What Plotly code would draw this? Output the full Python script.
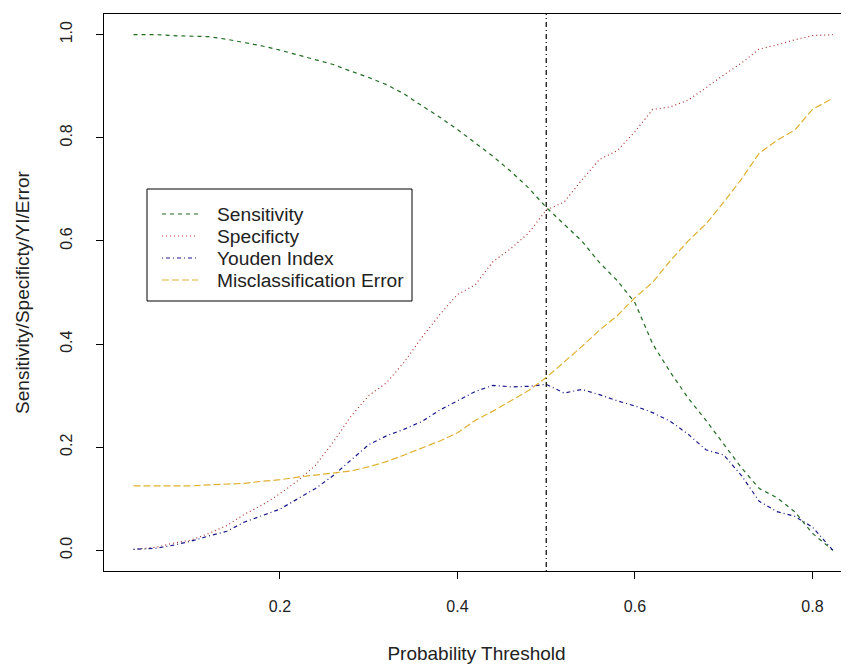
import plotly.graph_objects as go

threshold_grid = [0.035, 0.06, 0.08, 0.10, 0.12, 0.14, 0.16, 0.18, 0.20, 0.22,
                  0.24, 0.26, 0.28, 0.30, 0.32, 0.34, 0.36, 0.38, 0.40, 0.42,
                  0.44, 0.46, 0.48, 0.50, 0.52, 0.54, 0.56, 0.58, 0.60, 0.62,
                  0.64, 0.66, 0.68, 0.70, 0.72, 0.74, 0.76, 0.78, 0.80, 0.823]

sensitivity = [1.0, 1.0, 0.998, 0.997, 0.996, 0.991, 0.985, 0.978, 0.970, 0.961,
               0.952, 0.942, 0.929, 0.917, 0.903, 0.885, 0.862, 0.840, 0.816, 0.790,
               0.764, 0.735, 0.703, 0.665, 0.633, 0.600, 0.558, 0.523, 0.480, 0.400,
               0.345, 0.295, 0.252, 0.205, 0.160, 0.120, 0.102, 0.075, 0.033, 0.0]

specificity = [0.002, 0.006, 0.014, 0.020, 0.033, 0.048, 0.070, 0.088, 0.110, 0.135,
               0.165, 0.210, 0.260, 0.300, 0.325, 0.365, 0.413, 0.457, 0.496, 0.515,
               0.560, 0.585, 0.615, 0.660, 0.675, 0.718, 0.758, 0.775, 0.812, 0.855,
               0.860, 0.873, 0.897, 0.922, 0.945, 0.972, 0.980, 0.990, 0.998, 1.0]

youden = [0.002, 0.004, 0.010, 0.018, 0.028, 0.037, 0.055, 0.068, 0.080, 0.100,
          0.120, 0.145, 0.175, 0.205, 0.222, 0.235, 0.250, 0.272, 0.290, 0.308,
          0.320, 0.317, 0.318, 0.322, 0.305, 0.312, 0.302, 0.290, 0.280, 0.267,
          0.250, 0.225, 0.195, 0.185, 0.145, 0.095, 0.075, 0.066, 0.045, 0.0]

misclass_error = [0.125, 0.125, 0.125, 0.125, 0.127, 0.128, 0.130, 0.134, 0.137, 0.142,
                  0.146, 0.150, 0.154, 0.162, 0.172, 0.185, 0.198, 0.212, 0.228, 0.252,
                  0.270, 0.290, 0.310, 0.335, 0.365, 0.395, 0.427, 0.455, 0.490, 0.520,
                  0.562, 0.600, 0.633, 0.675, 0.720, 0.770, 0.795, 0.815, 0.855, 0.877]

cutoff = 0.5

series_names = ["Sensitivity", "Specificty", "Youden Index", "Misclassification Error"]
x_ticks = [0.2, 0.4, 0.6, 0.8]
y_ticks = [0.0, 0.2, 0.4, 0.6, 0.8, 1.0]

FONT = "Liberation Sans, Arial, sans-serif"

styles = [
    dict(color="#1f6b1f", dash="4px,4px"),
    dict(color="#b03030", dash="1px,3px"),
    dict(color="#1a1a8c", dash="1px,3px,4px,3px"),
    dict(color="#e0b030", dash="7px,3px"),
]

# figure geometry (the page has an 8px body margin)
W, H = 841, 656
ML, MR, MT, MB = 96, 0, 6, 93
PW, PH = W - ML - MR, H - MT - MB
PX_PER_UNIT = 887.5
X0 = 0.0017


def px_x(page_x):
    return (page_x - 8 - ML) / PW


def px_y(page_y):
    return (H - MB - (page_y - 8)) / PH


fig = go.Figure()
for name, vals, st in zip(series_names, [sensitivity, specificity, youden, misclass_error], styles):
    fig.add_trace(go.Scatter(
        x=threshold_grid, y=vals, mode="lines", name=name, showlegend=False,
        line=dict(color=st["color"], dash=st["dash"], width=1.2),
    ))

fig.add_shape(type="line", xref="x", yref="paper", x0=cutoff, x1=cutoff, y0=0, y1=1,
              line=dict(color="black", width=1.2, dash="1px,3px,5px,3px"))

# legend box (drawn like R's legend())
fig.add_shape(type="rect", xref="paper", yref="paper",
              x0=px_x(147), x1=px_x(412), y0=px_y(301), y1=px_y(189),
              line=dict(color="black", width=1), fillcolor="white", layer="above")
for i, (name, st) in enumerate(zip(series_names, styles)):
    yc = 214 + 22 * i
    fig.add_shape(type="line", xref="paper", yref="paper",
                  x0=px_x(162), x1=px_x(198), y0=px_y(yc), y1=px_y(yc),
                  line=dict(color=st["color"], dash=st["dash"], width=1.2), layer="above")
    fig.add_annotation(xref="paper", yref="paper", x=px_x(215), y=px_y(yc),
                       xanchor="left", yanchor="middle", text=name, showarrow=False,
                       font=dict(size=19.2, color="#222"))

fig.update_layout(
    width=W, height=H,
    margin=dict(l=ML, r=MR, t=MT, b=MB),
    paper_bgcolor="white", plot_bgcolor="white",
    font=dict(family=FONT, size=16, color="#222"),
    showlegend=False,
    xaxis=dict(range=[X0, X0 + PW / PX_PER_UNIT], tickvals=x_ticks, tickformat=".1f",
               ticks="outside", ticklen=7, tickcolor="black", ticklabelstandoff=14,
               showline=True, linecolor="black", linewidth=1, mirror=True,
               showgrid=False, zeroline=False, automargin=False,
               title=dict(text="Probability Threshold", standoff=33)),
    yaxis=dict(range=[-0.04, 1.04], tickvals=y_ticks, tickformat=".1f",
               ticks="outside", ticklen=7, tickcolor="black", tickangle=-90,
               ticklabelstandoff=18, automargin=False,
               showline=True, linecolor="black", linewidth=1, mirror=False,
               showgrid=False, zeroline=False,
               title=dict(text="Sensitivity/Specificty/YI/Error", standoff=22)),
)

fig.write_html("out.html")
